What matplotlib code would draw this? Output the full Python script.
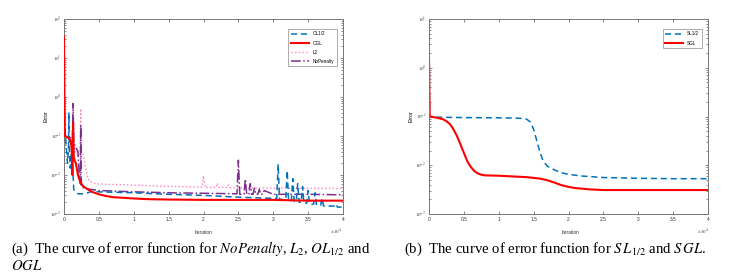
import numpy as np
import matplotlib
matplotlib.use('Agg')
import matplotlib.pyplot as plt
from matplotlib.ticker import FixedLocator, LogLocator, NullFormatter

plt.rcParams['font.family'] = ['Liberation Sans', 'DejaVu Sans']
plt.rcParams['mathtext.fontset'] = 'stix'

# ---------------------------------------------------------------------------
# data (iteration in units of 1e4, error on log scale)
# ---------------------------------------------------------------------------
ol12_x = [0, 0.01, 0.02, 0.05, 0.065, 0.07, 0.075, 0.09, 0.11, 0.14, 0.2, 0.3, 0.4, 0.5,
          1.0, 1.5, 2.0, 2.5, 3.05, 3.07, 3.09, 3.18, 3.2, 3.22, 3.26, 3.28, 3.3,
          3.33, 3.35, 3.37, 3.4, 3.42, 3.44, 3.48, 3.5, 3.52, 3.58, 3.6, 3.62,
          3.68, 3.7, 3.72, 3.88, 3.9, 3.92, 4.0]
ol12_y = [0.5, 0.15, 0.1, 0.02, 0.05, 0.4, 0.05, 0.015, 0.05, 0.0042, 0.0033, 0.0033,
          0.0038, 0.0037, 0.0035, 0.0032, 0.003, 0.0027, 0.0025, 0.019, 0.0024, 0.0023,
          0.013, 0.0022, 0.0022, 0.008, 0.0021, 0.0021, 0.006, 0.002, 0.002, 0.005,
          0.0019, 0.0019, 0.004, 0.0018, 0.0018, 0.0035, 0.0017, 0.0017, 0.0025,
          0.0016, 0.0016, 0.0018, 0.0015, 0.0015]

ogl_x = [0, 0.005, 0.01, 0.03, 0.06, 0.09, 0.11, 0.12, 0.13, 0.14, 0.15, 0.17, 0.2,
         0.23, 0.27, 0.3, 0.35, 0.4, 0.5, 0.6, 0.7, 0.85, 1.0, 1.2, 1.5, 2.0, 2.5,
         3.0, 3.5, 4.0]
ogl_y = [35, 2, 0.1, 0.095, 0.09, 0.08, 0.05, 0.01, 0.22, 0.03, 0.024, 0.02, 0.01,
         0.007, 0.0052, 0.0048, 0.0042, 0.0037, 0.0032, 0.0029, 0.0027, 0.0026,
         0.0025, 0.0024, 0.00235, 0.0023, 0.0023, 0.0023, 0.0022, 0.0022]

l2_x = [0, 0.01, 0.02, 0.1, 0.2, 0.23, 0.24, 0.25, 0.28, 0.33, 0.36, 0.45, 0.6, 1.0,
        1.5, 1.98, 2.0, 2.02, 2.18, 2.2, 2.22, 2.33, 2.35, 2.37, 2.5, 3.0, 4.0]
l2_y = [3.1, 0.3, 0.1, 0.08, 0.03, 0.04, 0.5, 0.04, 0.03, 0.01, 0.007, 0.006, 0.0058,
        0.0055, 0.0051, 0.0049, 0.0095, 0.0048, 0.0048, 0.0062, 0.0048, 0.0048,
        0.0056, 0.0047, 0.0047, 0.0046, 0.0045]

nop_x = [0, 0.01, 0.02, 0.1, 0.12, 0.13, 0.14, 0.15, 0.2, 0.22, 0.235, 0.24, 0.245,
         0.25, 0.3, 0.5, 1.0, 1.5, 2.0, 2.48, 2.5, 2.52, 2.58, 2.6, 2.62, 2.65, 2.67,
         2.69, 2.71, 2.73, 2.75, 2.78, 2.8, 2.82, 2.85, 2.87, 3.0, 3.5, 4.0]
nop_y = [2.8, 0.3, 0.1, 0.09, 0.08, 0.68, 0.07, 0.06, 0.04, 0.008, 0.006, 0.19, 0.006,
         0.005, 0.0045, 0.004, 0.0037, 0.0035, 0.0034, 0.0033, 0.024, 0.0032, 0.0032,
         0.0078, 0.0032, 0.0032, 0.006, 0.0032, 0.0032, 0.0046, 0.0032, 0.0032,
         0.0043, 0.0032, 0.0032, 0.004, 0.0032, 0.0032, 0.0031]

sl12_x = [0, 0.005, 0.01, 0.05, 0.5, 1.0, 1.3, 1.4, 1.45, 1.5, 1.55, 1.58, 1.62, 1.65,
          1.7, 1.8, 1.9, 2.0, 2.2, 2.5, 3.0, 3.5, 4.0]
sl12_y = [8, 1.0, 0.1, 0.097, 0.095, 0.094, 0.092, 0.088, 0.078, 0.055, 0.03, 0.021,
          0.014, 0.0115, 0.0095, 0.008, 0.007, 0.0065, 0.006, 0.0056, 0.0054, 0.0053,
          0.0053]

sgl_x = [0, 0.005, 0.01, 0.1, 0.2, 0.25, 0.3, 0.35, 0.4, 0.45, 0.5, 0.55, 0.6, 0.65,
         0.7, 0.75, 0.8, 1.0, 1.2, 1.4, 1.5, 1.6, 1.7, 1.8, 1.9, 2.0, 2.1, 2.2, 2.3,
         2.5, 3.0, 3.5, 4.0]
sgl_y = [1.5, 0.3, 0.1, 0.095, 0.088, 0.08, 0.07, 0.055, 0.04, 0.027, 0.018, 0.012,
         0.0092, 0.0076, 0.0068, 0.0064, 0.0062, 0.0061, 0.0059, 0.0057, 0.0055,
         0.0053, 0.0049, 0.0044, 0.0039, 0.0036, 0.0034, 0.0033, 0.0032, 0.0031,
         0.0031, 0.0031, 0.0031]

x_ticks = [0, 0.5, 1, 1.5, 2, 2.5, 3, 3.5, 4]
x_labels = ['0', '0.5', '1', '1.5', '2', '2.5', '3', '3.5', '4']

BLUE = '#0072BD'
RED = '#FF0000'
PINK = '#FF80C0'
PURPLE = '#7E2F8E'
FRAME = '#777777'


def style_axes(ax, ymin_exp, ymax_exp):
    ax.set_yscale('log')
    ax.set_xlim(0, 4)
    ax.set_ylim(10.0 ** ymin_exp, 10.0 ** ymax_exp)
    ax.xaxis.set_major_locator(FixedLocator(x_ticks))
    ax.set_xticklabels(x_labels)
    exps = list(range(ymin_exp, ymax_exp + 1))
    ax.yaxis.set_major_locator(FixedLocator([10.0 ** e for e in exps]))
    ax.set_yticklabels([r'$10^{%d}$' % e for e in exps])
    ax.yaxis.set_minor_locator(LogLocator(base=10, subs=np.arange(2, 10)))
    ax.yaxis.set_minor_formatter(NullFormatter())
    ax.tick_params(which='both', direction='in', top=True, right=True,
                   labelsize=3.5, colors='#333333', width=0.4, pad=2)
    ax.tick_params(which='major', length=2.5)
    ax.tick_params(which='minor', length=1.3)
    for sp in ax.spines.values():
        sp.set_color(FRAME)
        sp.set_linewidth(0.7)
    ax.set_ylabel('Error', fontsize=3.8, labelpad=1)


fig = plt.figure(figsize=(7.37, 2.76), dpi=100)

# (a)
ax1 = fig.add_axes([64 / 737, 1 - 214 / 276, 279 / 737, 195 / 276])
ax1.plot(ol12_x, ol12_y, color=BLUE, ls=(0, (4, 2.5)), lw=1.1, label='OL1/2', zorder=3)
ax1.plot(ogl_x, ogl_y, color=RED, ls='-', lw=1.5, label='OGL', zorder=4)
ax1.plot(l2_x, l2_y, color=PINK, ls=':', lw=1.0, label='L2', zorder=2)
ax1.plot(nop_x, nop_y, color=PURPLE, ls='-.', lw=1.1, label='NoPenalty', zorder=2)
style_axes(ax1, -3, 2)
leg1 = ax1.legend(loc='upper right', fontsize=3.3, handlelength=4, frameon=True,
                  fancybox=False, borderpad=0.5, labelspacing=0.9,
                  bbox_to_anchor=(0.985, 0.96))
leg1.get_frame().set_edgecolor('#888888')
leg1.get_frame().set_linewidth(0.6)

# (b)
ax2 = fig.add_axes([429 / 737, 1 - 214 / 276, 279 / 737, 195 / 276])
ax2.plot(sl12_x, sl12_y, color=BLUE, ls=(0, (4, 2.5)), lw=1.1, label='SL1/2')
ax2.plot(sgl_x, sgl_y, color=RED, ls='-', lw=1.5, label='SGL')
style_axes(ax2, -3, 1)
leg2 = ax2.legend(loc='upper right', fontsize=3.3, handlelength=4, frameon=True,
                  fancybox=False, borderpad=0.5, labelspacing=0.9,
                  bbox_to_anchor=(0.985, 0.96))
leg2.get_frame().set_edgecolor('#888888')
leg2.get_frame().set_linewidth(0.6)

# axis labels below the plots
for xl, xo in [(203, 336), (570, 703)]:
    fig.text(xl / 737, 1 - 232 / 276, 'Iteration', fontsize=3.5, ha='center',
             va='center', color='#333333')
    fig.text(xo / 737, 1 - 232 / 276, r'$\times10^{4}$', fontsize=3.5, ha='center',
             va='center', color='#333333')

# captions
cap = dict(fontsize=10.6, family='Liberation Serif', va='center', ha='left')
fig.text(11 / 737, 1 - 249 / 276,
         r'(a)  The curve of error function for $NoPenalty$, $L_2$, $OL_{1/2}$ and', **cap)
fig.text(11 / 737, 1 - 266 / 276, r'$OGL$', **cap)
fig.text(404 / 737, 1 - 249 / 276,
         r'(b)  The curve of error function for $S\,L_{1/2}$ and $S\,GL$.', **cap)

fig.savefig('out.png', dpi=100)
